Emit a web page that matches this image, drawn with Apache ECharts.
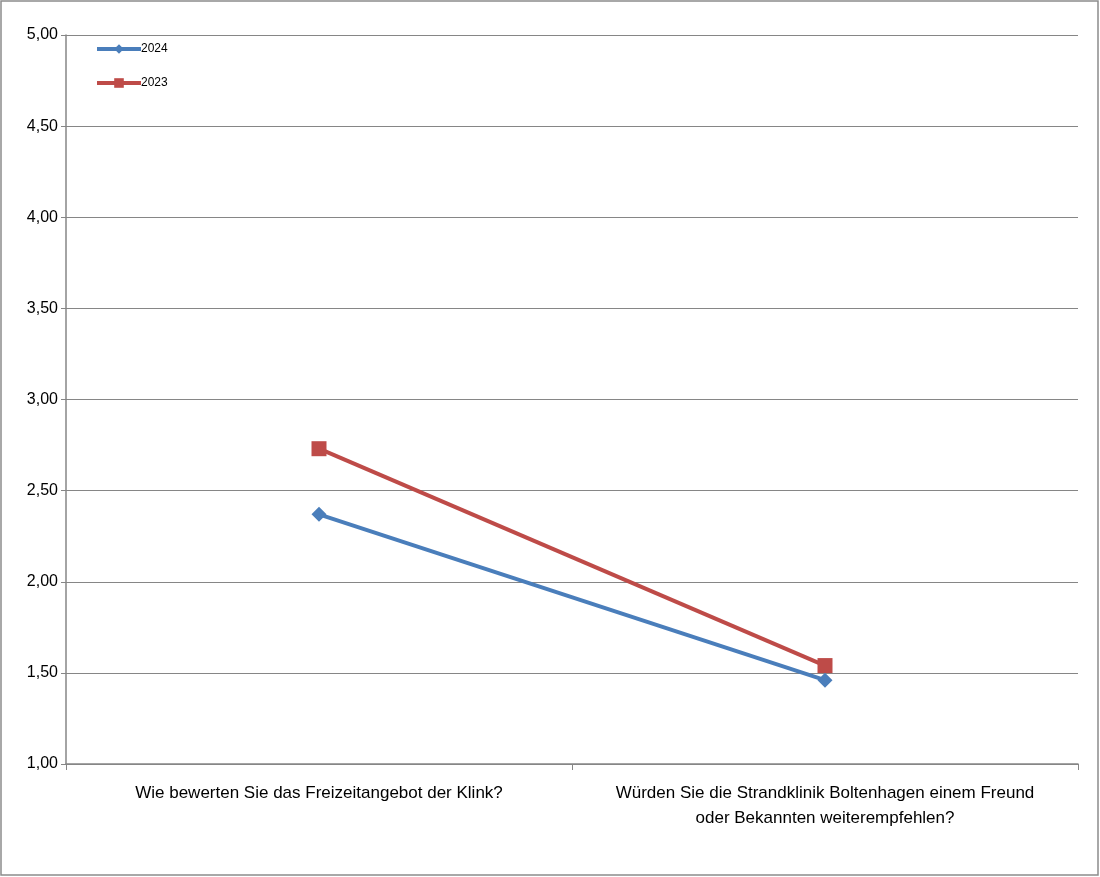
<!DOCTYPE html>
<html><head><meta charset="utf-8">
<script src="https://cdn.jsdelivr.net/npm/echarts@6/dist/echarts.min.js"></script>
<style>html,body{margin:0;padding:0;background:#fff}#c{width:1100px;height:877px}</style>
</head><body><div id="c"></div>
<script>
const categories = ['Wie bewerten Sie das Freizeitangebot der Klink?', 'Würden Sie die Strandklinik Boltenhagen einem Freund\noder Bekannten weiterempfehlen?'];
const values2024 = [2.37, 1.46];
const values2023 = [2.73, 1.54];
const yTicks = { min: 1, max: 5, interval: 0.5 };

const chart = echarts.init(document.getElementById('c'), null, { renderer: 'canvas' });
const font = '"Liberation Sans", Arial, sans-serif';
chart.setOption({
  animation: false,
  backgroundColor: '#fff',
  textStyle: { fontFamily: font },
  graphic: [{ type: 'rect', shape: { x: 1, y: 1, width: 1097, height: 874 }, style: { fill: 'none', stroke: '#8c8c8c', lineWidth: 1.5 } }],
  grid: { left: 66, right: 22, top: 35, bottom: 113 },
  legend: {
    orient: 'vertical', left: 90, top: 38, itemGap: 22, itemWidth: 44, itemHeight: 12,
    lineStyle: { width: 4 },
    textStyle: { fontSize: 12, color: '#000', fontFamily: font, padding: [0, 0, 0, -5] },
    data: ['2024', '2023']
  },
  xAxis: {
    type: 'category', data: categories, boundaryGap: true,
    axisLine: { lineStyle: { color: '#868686', width: 1.5 } },
    axisTick: { show: true, length: 6, inside: false, lineStyle: { color: '#868686' } },
    axisLabel: { color: '#000', fontSize: 17, margin: 17, lineHeight: 25, interval: 0, fontFamily: font }
  },
  yAxis: {
    type: 'value', min: yTicks.min, max: yTicks.max, interval: yTicks.interval,
    axisLine: { show: true, lineStyle: { color: '#868686', width: 1.5 } },
    axisTick: { show: true, length: 5, lineStyle: { color: '#868686' } },
    splitLine: { lineStyle: { color: '#868686', width: 1 } },
    axisLabel: { color: '#000', fontSize: 16, margin: 8, fontFamily: font, formatter: v => v.toFixed(2).replace('.', ',') }
  },
  series: [
    { name: '2024', type: 'line', data: values2024, symbol: 'diamond', symbolSize: 15, lineStyle: { color: '#4a7ebb', width: 4 }, itemStyle: { color: '#4a7ebb' }, z: 3 },
    { name: '2023', type: 'line', data: values2023, symbol: 'rect', symbolSize: 15, lineStyle: { color: '#be4b48', width: 4 }, itemStyle: { color: '#be4b48' }, z: 2 }
  ]
});
</script></body></html>
